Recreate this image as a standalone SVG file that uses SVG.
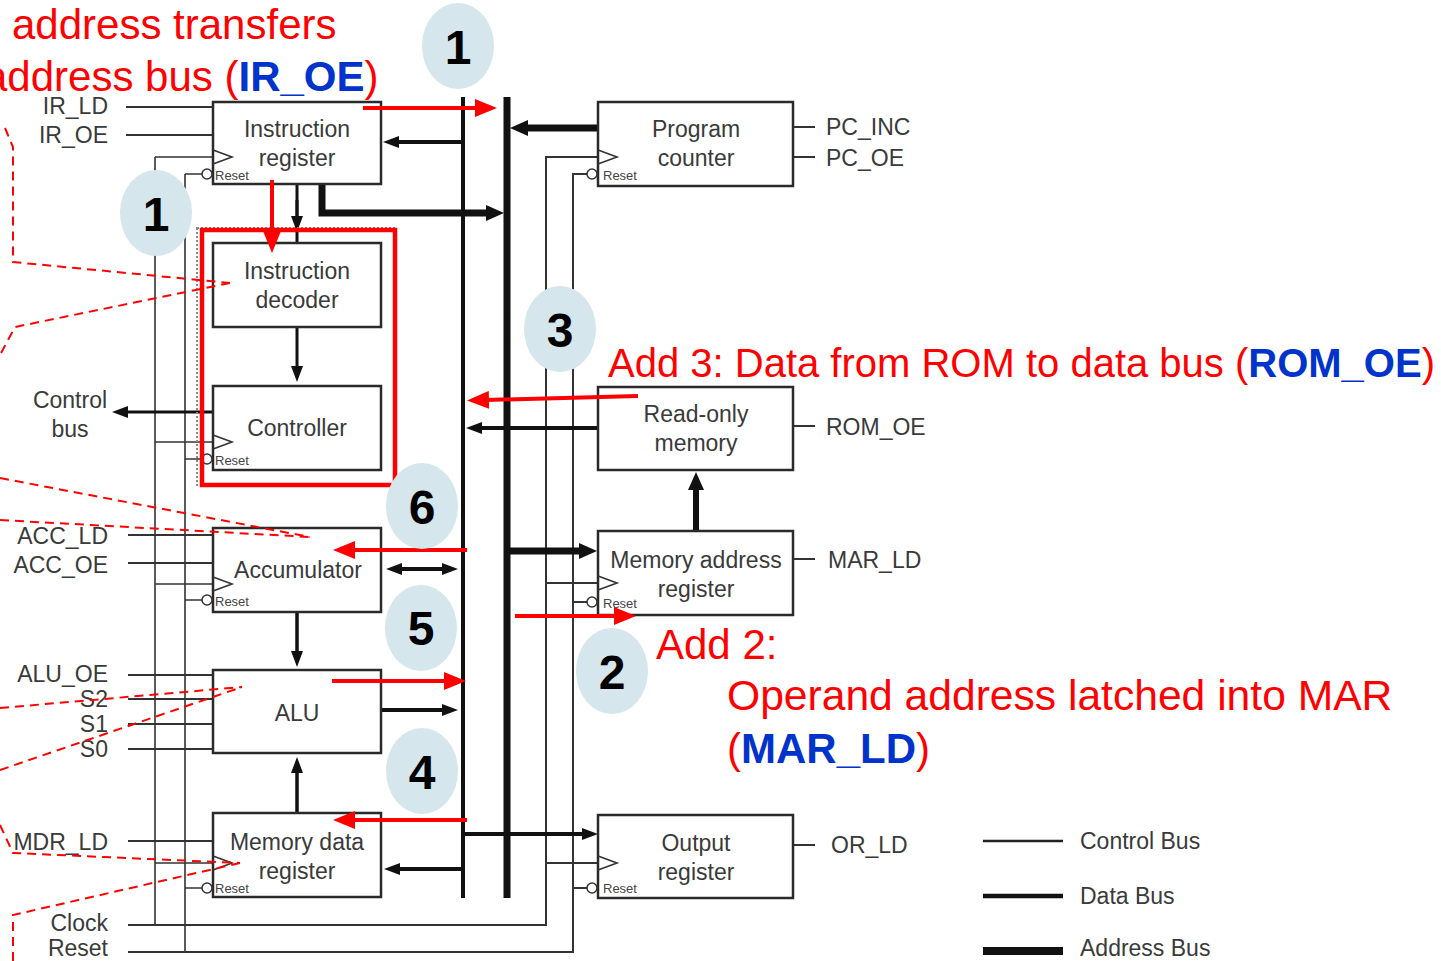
<svg xmlns="http://www.w3.org/2000/svg" width="1441" height="961" viewBox="0 0 1441 961">
<defs>
<style>
.t{font-family:"Liberation Sans",Arial,sans-serif;font-size:23px;fill:#3a3a3a}
.tc{text-anchor:middle}
.te{text-anchor:end}
.rs{font-family:"Liberation Sans",Arial,sans-serif;font-size:13px;fill:#444}
.box{fill:#fff;stroke:#2a2a2a;stroke-width:2.5}
.ctl{stroke:#333;stroke-width:2;fill:none}
.clk{stroke:#333;stroke-width:1.6;fill:none}
.dat{stroke:#111;stroke-width:4;fill:none}
.adr{stroke:#111;stroke-width:7;fill:none}
.red{stroke:#ff0000;stroke-width:4;fill:none}
.rdash{stroke:#ff0000;stroke-width:2;fill:none;stroke-dasharray:9,6}
.bub{fill:#d5e6ed}
.num{font-family:"Liberation Sans",Arial,sans-serif;font-size:48px;font-weight:bold;fill:#000;text-anchor:middle}
.ann{font-family:"Liberation Sans",Arial,sans-serif;font-size:42px;fill:#ff0000}
.blue{fill:#0033cc;font-weight:bold}
</style>
<marker id="ahd" viewBox="0 0 16 12" refX="3" refY="6" markerWidth="16" markerHeight="12" markerUnits="userSpaceOnUse" orient="auto-start-reverse"><path d="M0,0 L16,6 L0,12 z" fill="#111"/></marker>
<marker id="aha" viewBox="0 0 18 16" refX="3" refY="8" markerWidth="18" markerHeight="16" markerUnits="userSpaceOnUse" orient="auto-start-reverse"><path d="M0,0 L18,8 L0,16 z" fill="#111"/></marker>
<marker id="ahr" viewBox="0 0 22 18" refX="3" refY="9" markerWidth="22" markerHeight="18" markerUnits="userSpaceOnUse" orient="auto-start-reverse"><path d="M0,0 L22,9 L0,18 z" fill="#ff0000"/></marker>
</defs>
<rect width="1441" height="961" fill="#fff"/>

<!-- wires: clock & reset & control -->
<g id="wires">
<path class="clk" d="M155,157 V925 M155,157 H213 M155,442 H213 M155,584 H213 M155,863 H213"/>
<path class="clk" d="M185,174 V952 M185,174 H202 M185,459 H202 M185,600 H202 M185,888 H202"/>
<path class="ctl" d="M128,925 H546 V157 H598 M546,583 H598 M546,863 H598"/>
<path class="ctl" d="M128,952 H573 V174 H593 M573,602 H593 M573,888 H593"/>
<path class="ctl" d="M126,107 H213 M126,135 H213 M128,535 H213 M128,563 H213 M128,675 H213 M128,699 H213 M128,724 H213 M128,749 H213 M128,841 H213"/>
<path class="ctl" d="M793,127 H815 M793,157 H815 M793,426 H815 M793,559 H815 M793,845 H815"/>
</g>

<!-- connectors / buses -->
<g id="connectors">
<line class="dat" x1="463" y1="97" x2="463" y2="898"/>
<line class="adr" x1="507" y1="97" x2="507" y2="898"/>
<line class="dat" x1="463" y1="142" x2="396" y2="142" marker-end="url(#ahd)"/>
<line x1="297" y1="184" x2="297" y2="243" stroke="#111" stroke-width="3"/>
<line x1="297" y1="200" x2="297" y2="219" stroke="#111" stroke-width="3" marker-end="url(#ahd)"/>
<line x1="297" y1="327" x2="297" y2="369" stroke="#111" stroke-width="3" marker-end="url(#ahd)"/>
<line x1="213" y1="412" x2="125" y2="412" stroke="#111" stroke-width="3" marker-end="url(#ahd)"/>
<line class="dat" x1="399" y1="569" x2="445" y2="569" marker-start="url(#ahd)" marker-end="url(#ahd)"/>
<line x1="297" y1="612" x2="297" y2="654" stroke="#111" stroke-width="3.5" marker-end="url(#ahd)"/>
<line class="dat" x1="381" y1="710" x2="445" y2="710" marker-end="url(#ahd)"/>
<line x1="297" y1="813" x2="297" y2="770" stroke="#111" stroke-width="3.5" marker-end="url(#ahd)"/>
<line class="dat" x1="463" y1="869" x2="397" y2="869" marker-end="url(#ahd)"/>
<line class="dat" x1="463" y1="834" x2="585" y2="834" marker-end="url(#ahd)"/>
<line class="adr" x1="598" y1="128" x2="525" y2="128" marker-end="url(#aha)"/>
<path class="adr" d="M322,184 V213 H489" marker-end="url(#aha)"/>
<line class="dat" x1="598" y1="428" x2="479" y2="428" marker-end="url(#ahd)"/>
<line class="adr" x1="507" y1="551" x2="582" y2="551" marker-end="url(#aha)"/>
<line x1="696" y1="531" x2="696" y2="487" stroke="#111" stroke-width="6" marker-end="url(#aha)"/>
</g>

<!-- dotted group box -->
<rect x="197" y="228" width="198" height="257" fill="none" stroke="#888" stroke-width="2" stroke-dasharray="2,2"/>

<g id="ir">
<rect class="box" x="213" y="102" width="168" height="82"/>
<polyline class="clk" points="213,150 232,157 213,164"/>
<circle cx="207" cy="174" r="5" fill="#fff" stroke="#333" stroke-width="1.5"/>
<text class="rs" x="215" y="180">Reset</text>
<text class="t tc" x="297" y="137">Instruction</text>
<text class="t tc" x="297" y="166">register</text>
</g>
<g id="decoder">
<rect class="box" x="213" y="243" width="168" height="84"/>
<text class="t tc" x="297" y="279">Instruction</text>
<text class="t tc" x="297" y="308">decoder</text>
</g>
<g id="controller">
<rect class="box" x="213" y="386" width="168" height="84"/>
<polyline class="clk" points="213,435 232,442 213,449"/>
<circle cx="207" cy="459" r="5" fill="#fff" stroke="#333" stroke-width="1.5"/>
<text class="rs" x="215" y="465">Reset</text>
<text class="t tc" x="297" y="436">Controller</text>
</g>
<g id="acc">
<rect class="box" x="213" y="528" width="168" height="84"/>
<polyline class="clk" points="213,577 232,584 213,591"/>
<circle cx="207" cy="600" r="5" fill="#fff" stroke="#333" stroke-width="1.5"/>
<text class="rs" x="215" y="606">Reset</text>
<text class="t tc" x="298" y="578">Accumulator</text>
</g>
<g id="alu">
<rect class="box" x="213" y="670" width="168" height="83"/>
<text class="t tc" x="297" y="721">ALU</text>
</g>
<g id="mdr">
<rect class="box" x="213" y="813" width="168" height="84"/>
<polyline class="clk" points="213,856 232,863 213,870"/>
<circle cx="207" cy="888" r="5" fill="#fff" stroke="#333" stroke-width="1.5"/>
<text class="rs" x="215" y="893">Reset</text>
<text class="t tc" x="297" y="850">Memory data</text>
<text class="t tc" x="297" y="879">register</text>
</g>
<g id="pc">
<rect class="box" x="598" y="102" width="195" height="84"/>
<polyline class="clk" points="598,150 617,157 598,164"/>
<circle cx="592" cy="174" r="5" fill="#fff" stroke="#333" stroke-width="1.5"/>
<text class="rs" x="603" y="180">Reset</text>
<text class="t tc" x="696" y="137">Program</text>
<text class="t tc" x="696" y="166">counter</text>
</g>
<g id="rom">
<rect class="box" x="598" y="387" width="195" height="83"/>
<text class="t tc" x="696" y="422">Read-only</text>
<text class="t tc" x="696" y="451">memory</text>
</g>
<g id="mar">
<rect class="box" x="598" y="531" width="195" height="84"/>
<polyline class="clk" points="598,576 617,583 598,590"/>
<circle cx="592" cy="602" r="5" fill="#fff" stroke="#333" stroke-width="1.5"/>
<text class="rs" x="603" y="608">Reset</text>
<text class="t tc" x="696" y="568">Memory address</text>
<text class="t tc" x="696" y="597">register</text>
</g>
<g id="or">
<rect class="box" x="598" y="815" width="195" height="83"/>
<polyline class="clk" points="598,856 617,863 598,870"/>
<circle cx="592" cy="888" r="5" fill="#fff" stroke="#333" stroke-width="1.5"/>
<text class="rs" x="603" y="893">Reset</text>
<text class="t tc" x="696" y="851">Output</text>
<text class="t tc" x="696" y="880">register</text>
</g>

<g id="labels">
<text class="t te" x="108" y="114">IR_LD</text>
<text class="t te" x="108" y="143">IR_OE</text>
<text class="t tc" x="70" y="408">Control</text>
<text class="t tc" x="70" y="437">bus</text>
<text class="t te" x="108" y="544">ACC_LD</text>
<text class="t te" x="108" y="573">ACC_OE</text>
<text class="t te" x="108" y="682">ALU_OE</text>
<text class="t te" x="108" y="707">S2</text>
<text class="t te" x="108" y="732">S1</text>
<text class="t te" x="108" y="757">S0</text>
<text class="t te" x="108" y="850">MDR_LD</text>
<text class="t te" x="108" y="931">Clock</text>
<text class="t te" x="108" y="956">Reset</text>
<text class="t" x="826" y="135">PC_INC</text>
<text class="t" x="826" y="166">PC_OE</text>
<text class="t" x="826" y="435">ROM_OE</text>
<text class="t" x="828" y="568">MAR_LD</text>
<text class="t" x="831" y="853">OR_LD</text>
</g>

<g id="legend">
<line x1="983" y1="841" x2="1063" y2="841" stroke="#222" stroke-width="2.5"/>
<line x1="983" y1="896" x2="1063" y2="896" stroke="#111" stroke-width="4.5"/>
<line x1="983" y1="951" x2="1063" y2="951" stroke="#111" stroke-width="8"/>
<text class="t" x="1080" y="849">Control Bus</text>
<text class="t" x="1080" y="904">Data Bus</text>
<text class="t" x="1080" y="956">Address Bus</text>
</g>

<!-- red annotations -->
<g id="annotations">
<rect x="202" y="230" width="193" height="255" fill="none" stroke="#ff0000" stroke-width="4.5"/>
<path class="rdash" d="M5,128 L13,147 L13,262 L230,283"/>
<path class="rdash" d="M230,283 L15,327 L0,355"/>
<path class="rdash" d="M0,478 L310,537 M0,520 L310,537"/>
<path class="rdash" d="M0,708 L242,687 M0,770 L242,687"/>
<path class="rdash" d="M0,825 L13,853 L240,863 M240,863 L13,915 L13,961"/>
<line class="red" x1="363" y1="108" x2="478" y2="108" marker-end="url(#ahr)"/>
<line class="red" x1="272" y1="180" x2="272" y2="234" marker-end="url(#ahr)"/>
<line class="red" x1="638" y1="396" x2="486" y2="400" marker-end="url(#ahr)"/>
<line class="red" x1="467" y1="550" x2="352" y2="550" marker-end="url(#ahr)"/>
<line class="red" x1="332" y1="681" x2="447" y2="681" marker-end="url(#ahr)"/>
<line class="red" x1="515" y1="616" x2="617" y2="616" marker-end="url(#ahr)"/>
<line class="red" x1="467" y1="820" x2="352" y2="820" marker-end="url(#ahr)"/>
<text class="ann" x="12" y="39">address transfers</text>
<text class="ann" x="-16" y="91">address bus (<tspan class="blue">IR_OE</tspan>)</text>
<text class="ann" x="608" y="377" style="font-size:40px">Add 3: Data from ROM to data bus (<tspan class="blue">ROM_OE</tspan>)</text>
<text class="ann" x="656" y="659">Add 2:</text>
<text class="ann" x="727" y="710" style="font-size:42.6px">Operand address latched into MAR</text>
<text class="ann" x="727" y="763">(<tspan class="blue">MAR_LD</tspan>)</text>
</g>

<g id="steps">
<ellipse class="bub" cx="458" cy="46" rx="36" ry="43"/><text class="num" x="458" y="64">1</text>
<ellipse class="bub" cx="156" cy="213" rx="36" ry="43"/><text class="num" x="156" y="231">1</text>
<ellipse class="bub" cx="560" cy="329" rx="36" ry="43"/><text class="num" x="560" y="347">3</text>
<ellipse class="bub" cx="422" cy="506" rx="36" ry="43"/><text class="num" x="422" y="524">6</text>
<ellipse class="bub" cx="421" cy="628" rx="36" ry="43"/><text class="num" x="421" y="645">5</text>
<ellipse class="bub" cx="612" cy="671" rx="36" ry="43"/><text class="num" x="612" y="689">2</text>
<ellipse class="bub" cx="422" cy="771" rx="36" ry="43"/><text class="num" x="422" y="789">4</text>
</g>
</svg>
